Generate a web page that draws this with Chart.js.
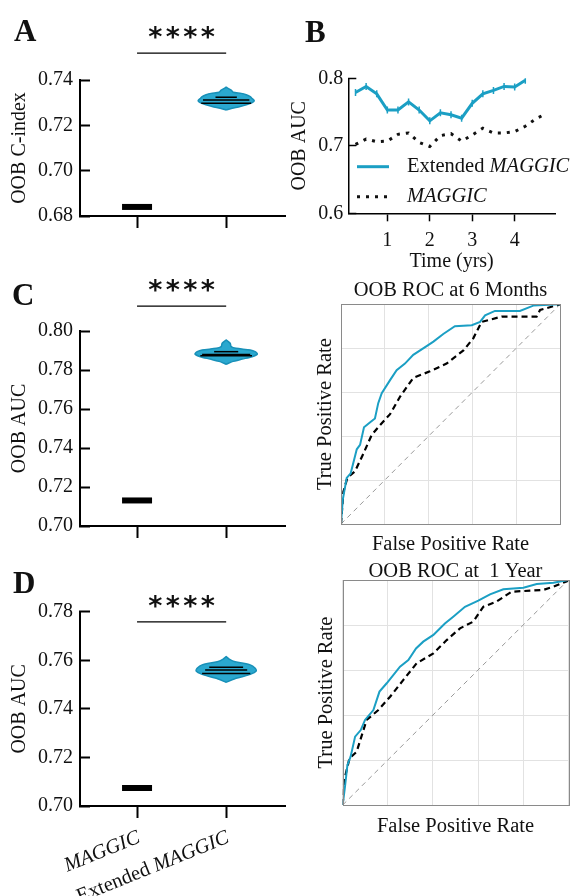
<!DOCTYPE html>
<html>
<head>
<meta charset="utf-8">
<script src="https://cdn.jsdelivr.net/npm/chart.js@4.4.1/dist/chart.umd.min.js"></script>
<style>
  body { margin: 0; background: #fff; }
  #fig { position: relative; width: 575px; height: 896px; }
  canvas { position: absolute; }
</style>
</head>
<body>
<div id="fig">
  <canvas id="panelA" width="290" height="270" style="left:0px;top:0px"></canvas>
  <canvas id="panelB" width="285" height="280" style="left:290px;top:0px"></canvas>
  <canvas id="panelC" width="290" height="290" style="left:0px;top:270px"></canvas>
  <canvas id="rocC" width="285" height="290" style="left:290px;top:270px"></canvas>
  <canvas id="panelD" width="290" height="336" style="left:0px;top:560px"></canvas>
  <canvas id="rocD" width="285" height="336" style="left:290px;top:560px"></canvas>
</div>
<script>
const SERIF = "'Liberation Serif', 'Times New Roman', serif";
const BLUE = '#1b9fc4';
const VIOLIN_FILL = '#2aa8cf';
const VIOLIN_EDGE = '#1890b8';
const TEXT = '#111';

const groups = ['MAGGIC', 'Extended MAGGIC'];

// A: OOB C-index
const cIndexTicks = [0.68, 0.70, 0.72, 0.74];
const cIndexMaggic = 0.684;
const cIndexViolinValues = [0.7268, 0.7275, 0.7283, 0.7292, 0.7300, 0.7309, 0.7318, 0.7327, 0.7335, 0.7341, 0.7346, 0.7355, 0.7368];
const cIndexViolinWidths = [0, 0.067, 0.157, 0.236, 0.292, 0.315, 0.292, 0.27, 0.225, 0.169, 0.079, 0.056, 0];
const cIndexQuartiles = [0.7297, 0.7312, 0.7324];
const cIndexQuartileWidths = [0.28, 0.26, 0.12];

// C: OOB AUC at 6 months
const auc6Ticks = [0.70, 0.72, 0.74, 0.76, 0.78, 0.80];
const auc6Maggic = 0.7131;
const auc6ViolinValues = [0.7829, 0.7843, 0.7856, 0.7868, 0.7882, 0.7894, 0.7903, 0.7911, 0.7920, 0.7937, 0.7954];
const auc6ViolinWidths = [0, 0.067, 0.18, 0.29, 0.35, 0.325, 0.27, 0.11, 0.056, 0.045, 0];
const auc6Quartiles = [0.7873, 0.7880, 0.7894];
const auc6QuartileWidths = [0.29, 0.27, 0.135];

// D: OOB AUC at 1 year
const auc1yTicks = [0.70, 0.72, 0.74, 0.76, 0.78];
const auc1yMaggic = 0.7074;
const auc1yViolinValues = [0.7509, 0.7523, 0.7532, 0.7542, 0.7556, 0.7567, 0.7581, 0.7594, 0.7605, 0.7615];
const auc1yViolinWidths = [0, 0.09, 0.18, 0.27, 0.337, 0.326, 0.27, 0.10, 0.034, 0];
const auc1yQuartiles = [0.7546, 0.7560, 0.7571];
const auc1yQuartileWidths = [0.27, 0.236, 0.19];

// B: OOB AUC over time
const timeYears = [0.25, 0.5, 0.75, 1, 1.25, 1.5, 1.75, 2, 2.25, 2.5, 2.75, 3, 3.25, 3.5, 3.75, 4, 4.25, 4.5, 4.75];
const aucExtended = [0.779, 0.788, 0.777, 0.753, 0.753, 0.765, 0.753, 0.737, 0.749, 0.746, 0.741, 0.763, 0.777, 0.782, 0.788, 0.787, 0.797];
const aucMaggic = [0.702, 0.710, 0.706, 0.707, 0.717, 0.719, 0.705, 0.699, 0.715, 0.718, 0.707, 0.716, 0.726, 0.719, 0.719, 0.721, 0.729, 0.740, 0.748];
const timeTicks = [1, 2, 3, 4];
const aucTimeTicks = [0.6, 0.7, 0.8];

// ROC at 6 months
const roc6ExtFpr = [0, 0.008, 0.026, 0.044, 0.072, 0.087, 0.105, 0.129, 0.155, 0.17, 0.186, 0.224, 0.254, 0.292, 0.33, 0.391, 0.422, 0.467, 0.52, 0.597, 0.635, 0.658, 0.703, 0.817, 0.878, 1];
const roc6ExtTpr = [0, 0.11, 0.21, 0.23, 0.34, 0.36, 0.44, 0.46, 0.48, 0.55, 0.595, 0.655, 0.70, 0.73, 0.77, 0.81, 0.83, 0.865, 0.90, 0.905, 0.92, 0.95, 0.97, 0.97, 0.994, 1];
const roc6MagFpr = [0, 0.011, 0.029, 0.064, 0.102, 0.14, 0.178, 0.224, 0.27, 0.33, 0.406, 0.482, 0.559, 0.604, 0.642, 0.734, 0.893, 0.909, 1];
const roc6MagTpr = [0, 0.147, 0.21, 0.24, 0.32, 0.405, 0.45, 0.50, 0.58, 0.665, 0.695, 0.73, 0.79, 0.845, 0.92, 0.944, 0.944, 0.974, 1];

// ROC at 1 year
const roc1yExtFpr = [0, 0.01, 0.021, 0.035, 0.055, 0.08, 0.099, 0.136, 0.163, 0.195, 0.254, 0.291, 0.325, 0.357, 0.402, 0.453, 0.49, 0.542, 0.601, 0.653, 0.712, 0.801, 0.86, 0.934, 1];
const roc1yExtTpr = [0, 0.081, 0.178, 0.215, 0.304, 0.333, 0.378, 0.422, 0.504, 0.541, 0.615, 0.644, 0.696, 0.726, 0.756, 0.807, 0.837, 0.881, 0.908, 0.936, 0.959, 0.966, 0.982, 0.988, 1];
const roc1yMagFpr = [0, 0.007, 0.03, 0.062, 0.106, 0.158, 0.21, 0.269, 0.328, 0.402, 0.461, 0.52, 0.579, 0.623, 0.682, 0.749, 0.889, 0.934, 1];
const roc1yMagTpr = [0, 0.111, 0.207, 0.237, 0.378, 0.422, 0.481, 0.556, 0.63, 0.674, 0.733, 0.785, 0.815, 0.881, 0.904, 0.948, 0.956, 0.97, 0.997];

const chanceLine = [0, 1];
const rocTicks = [0, 0.2, 0.4, 0.6, 0.8, 1];

Chart.defaults.font.family = SERIF;
Chart.defaults.color = TEXT;

function toPoints(xs, ys) {
  return ys.map((y, i) => ({ x: xs[i], y: y }));
}

function violinOutline(values, widths) {
  const left = values.map((v, i) => ({ x: 1 - widths[i], y: v }));
  const right = values.map((v, i) => ({ x: 1 + widths[i], y: v })).reverse();
  return left.concat(right);
}

// regular text with MAGGIC in italics
function drawMixed(ctx, label, x, y, size, align) {
  const parts = label.split(/(MAGGIC)/).filter(Boolean);
  const fontFor = t => (t === 'MAGGIC' ? 'italic ' : '') + size + 'px ' + SERIF;
  const widths = parts.map(t => { ctx.font = fontFor(t); return ctx.measureText(t).width; });
  let cx = align === 'right' ? x - widths.reduce((a, b) => a + b, 0) : x;
  ctx.textAlign = 'left';
  ctx.textBaseline = 'middle';
  parts.forEach((t, i) => {
    ctx.font = fontFor(t);
    ctx.fillText(t, cx, y);
    cx += widths[i];
  });
}

const panelDecor = {
  id: 'panelDecor',
  afterDraw(chart, args, opts) {
    const ctx = chart.ctx;
    ctx.save();
    ctx.fillStyle = TEXT;
    if (opts.letter) {
      ctx.font = 'bold 31px ' + SERIF;
      ctx.textAlign = 'left';
      ctx.textBaseline = 'alphabetic';
      ctx.fillText(opts.letter, opts.letterX, opts.letterY);
    }
    if (opts.sigY !== undefined) {
      const xs = chart.scales.x;
      const cx = (xs.getPixelForValue(0) + xs.getPixelForValue(1)) / 2;
      const cy = chart.scales.y.getPixelForValue(opts.sigY) - 18;
      ctx.font = 'bold 27px "DejaVu Sans", sans-serif';
      ctx.textAlign = 'center';
      ctx.textBaseline = 'middle';
      for (let i = 0; i < 4; i++) {
        ctx.fillText('*', cx + (i - 1.5) * 17.5, cy + 4);
      }
    }
    if (opts.groupLabels) {
      const xs = chart.scales.x;
      groups.forEach((g, i) => {
        ctx.save();
        ctx.translate(xs.getPixelForValue(i) + 2, xs.top + 31);
        ctx.rotate(-22 * Math.PI / 180);
        drawMixed(ctx, g, 0, 0, 20.5, 'right');
        ctx.restore();
      });
    }
    if (opts.legend) {
      chart.data.datasets.forEach((ds, i) => {
        const y = 166.7 + i * 30;
        ctx.strokeStyle = ds.borderColor;
        ctx.lineWidth = ds.borderWidth;
        ctx.setLineDash(ds.borderDash || []);
        ctx.beginPath();
        ctx.moveTo(67, y);
        ctx.lineTo(99, y);
        ctx.stroke();
        ctx.setLineDash([]);
        drawMixed(ctx, ds.label, 117, y, 20.5, 'left');
      });
    }
    if (opts.box) {
      const a = chart.chartArea;
      ctx.strokeStyle = '#8a8a8a';
      ctx.lineWidth = 1;
      ctx.strokeRect(Math.round(a.left) + 0.5, Math.round(a.top) + 0.5, Math.round(a.right - a.left), Math.round(a.bottom - a.top));
    }
    ctx.restore();
  }
};

function violinChart(id, cfg) {
  const datasets = cfg.quartiles.map((q, i) => ({
    data: [{ x: 1 - cfg.quartileWidths[i], y: q }, { x: 1 + cfg.quartileWidths[i], y: q }],
    showLine: true, borderColor: '#000', borderWidth: 1.5, pointRadius: 0
  }));
  datasets.push({
    data: violinOutline(cfg.violinValues, cfg.violinWidths),
    showLine: true, fill: 'shape', backgroundColor: VIOLIN_FILL,
    borderColor: VIOLIN_EDGE, borderWidth: 1.5, pointRadius: 0, tension: 0.25
  });
  datasets.push({
    data: [{ x: 0, y: cfg.maggic }],
    pointStyle: 'line', pointRadius: 15, pointBorderWidth: 6, pointBorderColor: '#000'
  });
  datasets.push({
    data: [{ x: 0, y: cfg.sigY }, { x: 1, y: cfg.sigY }],
    showLine: true, borderColor: '#000', borderWidth: 1.3, pointRadius: 0, clip: false
  });

  new Chart(document.getElementById(id), {
    type: 'scatter',
    data: { datasets: datasets },
    options: {
      responsive: false,
      animation: false,
      events: [],
      layout: { autoPadding: false, padding: { left: 9.5, right: 5, top: cfg.top, bottom: 0 } },
      plugins: {
        legend: { display: false },
        tooltip: { enabled: false },
        panelDecor: { letter: cfg.letter, letterX: cfg.letterX, letterY: cfg.letterY, sigY: cfg.sigY, groupLabels: cfg.groupLabels }
      },
      scales: {
        x: {
          type: 'linear', min: -0.64, max: 1.66,
          afterBuildTicks: s => { s.ticks = groups.map((g, i) => ({ value: i })); },
          ticks: { display: false },
          grid: { drawOnChartArea: false, tickLength: 12, tickWidth: 2, tickColor: '#000' },
          border: { color: '#000', width: 2 },
          afterFit: s => { s.height = cfg.xHeight; }
        },
        y: {
          min: cfg.ticks[0], max: cfg.ticks[cfg.ticks.length - 1],
          afterBuildTicks: s => { s.ticks = cfg.ticks.map(v => ({ value: v })); },
          ticks: { callback: v => v.toFixed(2), font: { size: 20 }, color: TEXT, padding: 17 },
          grid: { drawOnChartArea: false, tickLength: -10, tickWidth: 2, tickColor: '#000' },
          border: { color: '#000', width: 2 },
          title: { display: true, text: cfg.yTitle, font: { size: 20, lineHeight: 1 }, padding: 0, color: TEXT },
          afterFit: s => { s.width = 70.5; }
        }
      }
    },
    plugins: [panelDecor]
  });
}

function rocChart(id, cfg) {
  new Chart(document.getElementById(id), {
    type: 'scatter',
    data: {
      datasets: [
        { data: toPoints(cfg.extFpr, cfg.extTpr), showLine: true, borderColor: BLUE, borderWidth: 2, pointRadius: 0 },
        { data: toPoints(cfg.magFpr, cfg.magTpr), showLine: true, borderColor: '#000', borderWidth: 2.2, borderDash: [6, 4], pointRadius: 0 },
        { data: toPoints(chanceLine, chanceLine), showLine: true, borderColor: '#999', borderWidth: 1, borderDash: [5, 4], pointRadius: 0 }
      ]
    },
    options: {
      responsive: false,
      animation: false,
      events: [],
      layout: { autoPadding: false, padding: cfg.padding },
      plugins: {
        legend: { display: false },
        tooltip: { enabled: false },
        title: { display: true, fullSize: false, text: cfg.title, color: TEXT, font: { size: 20.5, weight: 'normal', lineHeight: cfg.titleLineHeight }, padding: cfg.titlePadding },
        panelDecor: { box: true }
      },
      scales: {
        x: {
          type: 'linear', min: 0, max: 1,
          afterBuildTicks: s => { s.ticks = rocTicks.map(v => ({ value: v })); },
          ticks: { display: false },
          grid: { color: '#e2e2e2', drawTicks: false },
          border: { display: false },
          title: { display: true, text: 'False Positive Rate', font: { size: 20.5, lineHeight: 1 }, padding: 0, color: TEXT },
          afterFit: s => { s.height = cfg.xHeight; }
        },
        y: {
          type: 'linear', min: 0, max: 1,
          afterBuildTicks: s => { s.ticks = rocTicks.map(v => ({ value: v })); },
          ticks: { display: false },
          grid: { color: '#e2e2e2', drawTicks: false },
          border: { display: false },
          title: { display: true, text: 'True Positive Rate', font: { size: 20.5, lineHeight: 1 }, padding: 0, color: TEXT },
          afterFit: s => { s.width = cfg.yWidth; }
        }
      }
    },
    plugins: [panelDecor]
  });
}

violinChart('panelA', {
  ticks: cIndexTicks, maggic: cIndexMaggic,
  violinValues: cIndexViolinValues, violinWidths: cIndexViolinWidths,
  quartiles: cIndexQuartiles, quartileWidths: cIndexQuartileWidths,
  sigY: 0.7519, yTitle: 'OOB C-index', top: 80, xHeight: 54,
  letter: 'A', letterX: 14, letterY: 41
});

violinChart('panelC', {
  ticks: auc6Ticks, maggic: auc6Maggic,
  violinValues: auc6ViolinValues, violinWidths: auc6ViolinWidths,
  quartiles: auc6Quartiles, quartileWidths: auc6QuartileWidths,
  sigY: 0.8128, yTitle: 'OOB AUC', top: 61, xHeight: 34,
  letter: 'C', letterX: 12, letterY: 35
});

violinChart('panelD', {
  ticks: auc1yTicks, maggic: auc1yMaggic,
  violinValues: auc1yViolinValues, violinWidths: auc1yViolinWidths,
  quartiles: auc1yQuartiles, quartileWidths: auc1yQuartileWidths,
  sigY: 0.7758, yTitle: 'OOB AUC', top: 51.7, xHeight: 90,
  letter: 'D', letterX: 13, letterY: 33, groupLabels: true
});

new Chart(document.getElementById('panelB'), {
  type: 'scatter',
  data: {
    datasets: [
      {
        label: 'Extended MAGGIC',
        data: toPoints(timeYears, aucExtended),
        showLine: true, borderColor: BLUE, borderWidth: 3,
        pointStyle: 'line', pointRotation: 90, pointRadius: 3.5, pointBorderWidth: 1.5, pointBorderColor: BLUE
      },
      {
        label: 'MAGGIC',
        data: toPoints(timeYears, aucMaggic),
        showLine: true, borderColor: '#111', borderWidth: 3, borderDash: [3, 6], pointRadius: 0
      }
    ]
  },
  options: {
    responsive: false,
    animation: false,
    events: [],
    layout: { autoPadding: false, padding: { left: 0, right: 20, top: 78.3, bottom: 8 } },
    plugins: {
      legend: { display: false },
      tooltip: { enabled: false },
      panelDecor: { letter: 'B', letterX: 15, letterY: 42, legend: true }
    },
    scales: {
      x: {
        type: 'linear', min: 0.08, max: 4.95,
        afterBuildTicks: s => { s.ticks = timeTicks.map(v => ({ value: v })); },
        ticks: { font: { size: 20 }, color: TEXT, padding: 7 },
        grid: { drawOnChartArea: false, tickLength: 8, tickWidth: 1.5, tickColor: '#000' },
        border: { color: '#000', width: 1.5 },
        title: { display: true, text: 'Time (yrs)', font: { size: 20, lineHeight: 1 }, padding: 0, color: TEXT },
        afterFit: s => { s.height = 58.7; }
      },
      y: {
        min: 0.6, max: 0.8,
        afterBuildTicks: s => { s.ticks = aucTimeTicks.map(v => ({ value: v })); },
        ticks: { callback: v => v.toFixed(1), font: { size: 20 }, color: TEXT, padding: 13 },
        grid: { drawOnChartArea: false, tickLength: -8, tickWidth: 1.5, tickColor: '#000' },
        border: { color: '#000', width: 1.5 },
        title: { display: true, text: 'OOB AUC', font: { size: 20, lineHeight: 1 }, padding: 0, color: TEXT },
        afterFit: s => { s.width = 58.3; }
      }
    }
  },
  plugins: [panelDecor]
});

rocChart('rocC', {
  title: 'OOB ROC at 6 Months',
  extFpr: roc6ExtFpr, extTpr: roc6ExtTpr, magFpr: roc6MagFpr, magTpr: roc6MagTpr,
  padding: { left: 25, right: 15, top: 0, bottom: 4.75 },
  titleLineHeight: 1, titlePadding: { top: 10.45, bottom: 3.35 },
  xHeight: 31.25, yWidth: 26
});

rocChart('rocD', {
  title: 'OOB ROC at  1 Year',
  extFpr: roc1yExtFpr, extTpr: roc1yExtTpr, magFpr: roc1yMagFpr, magTpr: roc1yMagTpr,
  padding: { left: 26, right: 6.7, top: 0, bottom: 59 },
  titleLineHeight: 0.8, titlePadding: { top: 3.5, bottom: 0.1 },
  xHeight: 32, yWidth: 26.7
});
</script>
</body>
</html>
